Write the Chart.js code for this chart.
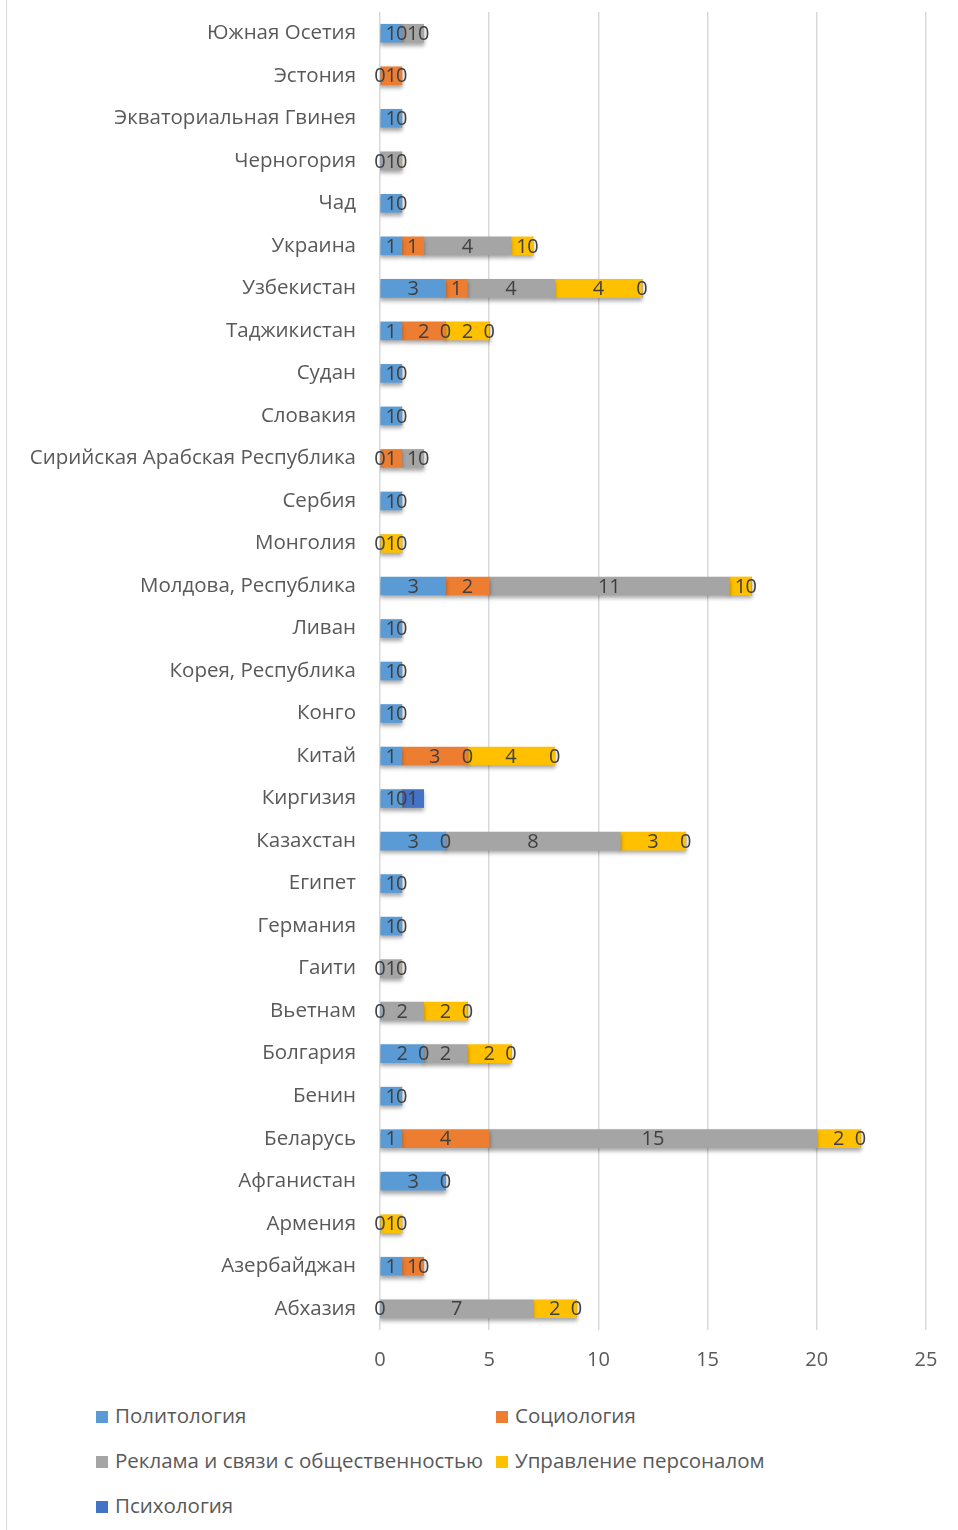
<!DOCTYPE html>
<html>
<head>
<meta charset="utf-8">
<script src="https://cdn.jsdelivr.net/npm/chart.js@4/dist/chart.umd.min.js"></script>
<style>
  body { margin: 0; background: #fff; }
  #wrap { position: relative; width: 958px; height: 1530px; overflow: hidden; }
  #frame { position: absolute; left: 6px; top: 0; width: 1px; height: 1530px; background: #d9d9d9; }
  #chart { position: absolute; left: 0; top: 0; }
  .leg { position: absolute; font-family: 'Open Sans', sans-serif; font-size: 20.5px; color: #595959; white-space: nowrap; line-height: 24px; }
  .leg span.box { display: inline-block; width: 12px; height: 12px; margin-right: 7px; vertical-align: 0px; }
</style>
</head>
<body>
<div id="wrap">
  <div id="frame"></div>
  <canvas id="chart" width="958" height="1385"></canvas>
  <div id="legend"></div>
</div>
<script>
// categories, top to bottom as shown
const countries = [
  'Южная Осетия', 'Эстония', 'Экваториальная Гвинея', 'Черногория', 'Чад',
  'Украина', 'Узбекистан', 'Таджикистан', 'Судан', 'Словакия',
  'Сирийская Арабская Республика', 'Сербия', 'Монголия', 'Молдова, Республика', 'Ливан',
  'Корея, Республика', 'Конго', 'Китай', 'Киргизия', 'Казахстан',
  'Египет', 'Германия', 'Гаити', 'Вьетнам', 'Болгария',
  'Бенин', 'Беларусь', 'Афганистан', 'Армения', 'Азербайджан', 'Абхазия'
];

const politology = [1, 0, 1, 0, 1, 1, 3, 1, 1, 1, 0, 1, 0, 3, 1, 1, 1, 1, 1, 3, 1, 1, 0, 0, 2, 1, 1, 3, 0, 1, 0];
const sociology = [0, 1, 0, null, 0, 1, 1, 2, 0, 0, 1, 0, null, 2, 0, 0, 0, 3, 0, 0, 0, 0, null, null, 0, 0, 4, 0, null, 1, null];
const publicRelations = [1, 0, null, 1, null, 4, 4, 0, null, null, 1, null, null, 11, null, null, null, 0, null, 8, null, null, 1, 2, 2, null, 15, null, null, 0, 7];
const hrManagement = [0, null, null, 0, null, 1, 4, 2, null, null, 0, null, 1, 1, null, null, null, 4, null, 3, null, null, 0, 2, 2, null, 2, null, 1, null, 2];
const psychology = [null, null, null, null, null, 0, 0, 0, null, null, null, null, 0, 0, null, null, null, 0, 1, 0, null, null, null, 0, 0, null, 0, null, 0, null, 0];

const seriesNames = ['Политология', 'Социология', 'Реклама и связи с общественностью', 'Управление персоналом', 'Психология'];
const seriesColors = ['#5B9BD5', '#ED7D31', '#A5A5A5', '#FFC000', '#4472C4'];
const seriesData = [politology, sociology, publicRelations, hrManagement, psychology];

const FONT = "'Open Sans', sans-serif";

// Shadow under bars + value labels on each segment
const barExtras = {
  id: 'barExtras',
  beforeDatasetsDraw(chart) {
    const ctx = chart.ctx;
    ctx.save();
    ctx.shadowColor = 'rgba(0,0,0,0.35)';
    ctx.shadowBlur = 4;
    ctx.shadowOffsetX = 0;
    ctx.shadowOffsetY = 3;
  },
  afterDatasetsDraw(chart) {
    const ctx = chart.ctx;
    ctx.restore();
    ctx.save();
    ctx.font = '20px ' + FONT;
    ctx.fillStyle = '#404040';
    ctx.textAlign = 'center';
    ctx.textBaseline = 'middle';
    chart.data.datasets.forEach((ds, i) => {
      const meta = chart.getDatasetMeta(i);
      meta.data.forEach((bar, j) => {
        const v = ds.data[j];
        if (v === null || v === undefined) return;
        const x = (bar.x + bar.base) / 2;
        ctx.fillText(String(v), x, bar.y + 1);
      });
    });
    ctx.restore();
  }
};

new Chart(document.getElementById('chart'), {
  type: 'bar',
  data: {
    labels: countries,
    datasets: seriesData.map((d, i) => ({
      label: seriesNames[i],
      data: d,
      backgroundColor: seriesColors[i],
      borderWidth: 0,
      barThickness: 18
    }))
  },
  options: {
    indexAxis: 'y',
    responsive: false,
    animation: false,
    layout: { padding: { top: 12, right: 32, left: 0, bottom: 0 } },
    scales: {
      x: {
        stacked: true,
        min: 0,
        max: 25,
        ticks: { stepSize: 5, color: '#595959', padding: 18, font: { size: 20, family: FONT } },
        grid: { color: '#d9d9d9', lineWidth: 1.5, drawTicks: false },
        border: { display: false },
        afterFit: (scale) => { scale.height = 55; }
      },
      y: {
        stacked: true,
        ticks: { color: '#595959', padding: 16, font: { size: 20.5, family: FONT }, autoSkip: false },
        grid: { display: false },
        border: { display: false },
        afterFit: (scale) => {
          scale.width = 380;
          scale.paddingTop = 0;
          scale.paddingBottom = 0;
        }
      }
    },
    plugins: {
      legend: { display: false },
      tooltip: { enabled: false }
    }
  },
  plugins: [barExtras]
});

// Legend below the chart, two columns like the original
const legendPos = [[96, 1403], [496, 1403], [96, 1448], [496, 1448], [96, 1493]];
document.getElementById('legend').innerHTML = seriesNames.map((name, i) => `
  <div class="leg" style="left:${legendPos[i][0]}px;top:${legendPos[i][1]}px">
    <span class="box" style="background:${seriesColors[i]}"></span>${name}
  </div>
`).join('');
</script>
</body>
</html>
